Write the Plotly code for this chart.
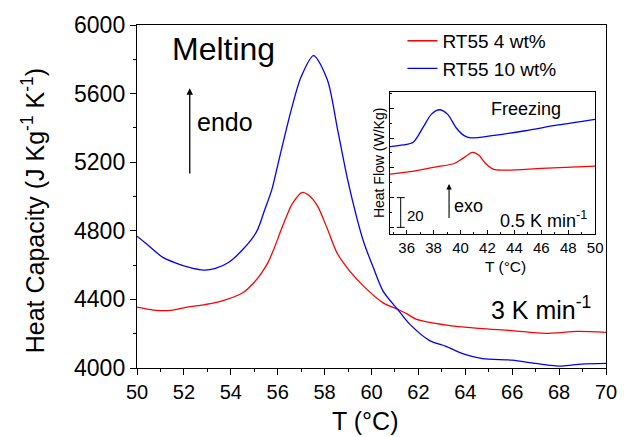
import plotly.graph_objects as go

# Main chart (melting, 3 K/min)
red_T = [50.0, 50.7, 51.45, 52.15, 52.9, 53.6, 54.5, 55.0, 55.3, 55.6, 55.87, 56.16, 56.44, 56.6, 57.05, 57.3, 57.7, 58.12, 58.55, 59.04, 59.67, 60.5, 61.1, 61.5, 61.9, 63.2, 64.6, 66.0, 67.4, 68.8, 70.0]
red_cp = [4355, 4338, 4336, 4355, 4370, 4390, 4437, 4500, 4552, 4619, 4705, 4810, 4905, 4953, 5024, 5010, 4944, 4810, 4666, 4571, 4476, 4380, 4343, 4317, 4285, 4250, 4231, 4218, 4202, 4214, 4208]
blue_T = [50.0, 50.4, 51.1, 51.66, 52.15, 52.85, 53.35, 53.9, 54.54, 55.1, 55.45, 55.75, 56.0, 56.58, 57.0, 57.53, 58.12, 58.55, 58.97, 59.39, 59.67, 60.09, 60.5, 61.15, 61.63, 62.48, 63.18, 63.88, 64.73, 66.0, 67.0, 68.1, 68.95, 70.0]
blue_cp = [4768, 4724, 4645, 4612, 4590, 4571, 4581, 4615, 4695, 4795, 4924, 5040, 5182, 5507, 5698, 5822, 5679, 5393, 5106, 4867, 4733, 4581, 4447, 4336, 4256, 4160, 4126, 4084, 4055, 4046, 4027, 4011, 4023, 4027]

# Inset (freezing, 0.5 K/min), heat flow in arbitrary offset units
in_blue_T = [34.77, 35.75, 36.49, 37.22, 37.83, 38.44, 39.05, 39.66, 40.27, 40.76, 42.35, 44.79, 47.24, 49.98]
in_blue_q = [54.3, 55.4, 57.2, 67.1, 75.9, 79.0, 75.9, 67.1, 61.6, 60.1, 61.6, 64.9, 68.8, 72.6]
in_red_T = [34.77, 36.24, 38.2, 39.54, 40.15, 40.89, 41.37, 41.86, 42.47, 43.57, 46.02, 50.0]
in_red_q = [35.8, 37.4, 40.7, 42.9, 46.2, 50.4, 48.4, 42.9, 38.9, 38.5, 39.6, 41.1]

x_ticks = list(range(50, 71, 2))
y_ticks = list(range(4000, 6001, 400))
inset_x_ticks = list(range(36, 51, 2))

FONT = "Liberation Sans, Arial, sans-serif"
RED = "#ff0000"
BLUE = "#0000ff"

fig = go.Figure()
fig.add_trace(go.Scatter(x=red_T, y=red_cp, mode="lines", name="RT55 4 wt%",
                         line=dict(color=RED, width=1.3, shape="spline", smoothing=0.8)))
fig.add_trace(go.Scatter(x=blue_T, y=blue_cp, mode="lines", name="RT55 10 wt%",
                         line=dict(color=BLUE, width=1.3, shape="spline", smoothing=0.8)))
fig.add_trace(go.Scatter(x=in_blue_T, y=in_blue_q, mode="lines", showlegend=False,
                         xaxis="x2", yaxis="y2",
                         line=dict(color=BLUE, width=1.3, shape="spline", smoothing=0.8)))
fig.add_trace(go.Scatter(x=in_red_T, y=in_red_q, mode="lines", showlegend=False,
                         xaxis="x2", yaxis="y2",
                         line=dict(color=RED, width=1.3, shape="spline", smoothing=0.8)))

axis_common = dict(showline=True, linecolor="black", mirror=True, showgrid=False,
                   zeroline=False, ticks="outside", tickcolor="black")

fig.update_layout(
    width=629, height=437,
    margin=dict(l=137, r=17, t=19, b=69),
    paper_bgcolor="white", plot_bgcolor="white",
    font=dict(family=FONT, color="black"),
    xaxis=dict(range=[50, 70], tickvals=x_ticks, ticklen=6, tickwidth=1.2, linewidth=1.4,
               tickfont=dict(size=20), minor=dict(dtick=1, ticklen=3, ticks="outside", tickcolor="black"),
               **axis_common),
    yaxis=dict(range=[4000, 6000], tickvals=y_ticks, ticklen=6, tickwidth=1.2, linewidth=1.4,
               tickfont=dict(size=23), minor=dict(dtick=200, ticklen=3, ticks="outside", tickcolor="black"),
               **axis_common),
    xaxis2=dict(domain=[0.539, 0.977], anchor="y2", range=[34.75, 50], tickvals=inset_x_ticks,
                showline=True, linecolor="black", mirror=True, showgrid=False, zeroline=False,
                ticks="inside", ticklen=4, tickcolor="black", linewidth=1,
                minor=dict(dtick=1, ticklen=2, ticks="inside", tickcolor="black"),
                tickfont=dict(size=15)),
    yaxis2=dict(domain=[0.390, 0.805], anchor="x2", range=[-4.6, 91], dtick=20,
                showline=True, linecolor="black", mirror=True, showgrid=False, zeroline=False,
                ticks="inside", ticklen=4, tickcolor="black", linewidth=1, showticklabels=False,
                minor=dict(dtick=10, ticklen=2, ticks="inside", tickcolor="black")),
    legend=dict(x=0.566, y=1.009, xanchor="left", yanchor="top", bgcolor="rgba(0,0,0,0)",
                font=dict(size=19), tracegroupgap=0),
)

C = dict(xanchor="center", yanchor="middle", showarrow=False)
ann = []
# axis titles
ann.append(dict(text="Heat Capacity (J Kg<sup>-1</sup> K<sup>-1</sup>)", xref="paper", yref="paper",
                x=-0.221, y=0.458, textangle=-90, font=dict(size=25), **C))
ann.append(dict(text="T (°C)", xref="paper", yref="paper", x=0.486, y=-0.155,
                font=dict(size=25), **C))
ann.append(dict(text="T (°C)", xref="paper", yref="paper", x=0.785, y=0.295,
                font=dict(size=15.5), **C))
ann.append(dict(text="Heat Flow (W/Kg)", xref="paper", yref="paper", x=0.515, y=0.596,
                textangle=-90, font=dict(size=14), **C))
# main texts
ann.append(dict(text="Melting", x=53.7, y=5862, xref="x", yref="y", font=dict(size=32), **C))
ann.append(dict(text="endo", x=53.74, y=5433, xref="x", yref="y", font=dict(size=25), **C))
ann.append(dict(text="3 K min<sup>-1</sup>", x=67.23, y=4349, xref="x", yref="y",
                font=dict(size=25), **C))
ann.append(dict(text="", x=52.25, y=5631, ax=52.25, ay=5125, xref="x", yref="y", axref="x", ayref="y",
                showarrow=True, arrowhead=2, arrowsize=1, arrowwidth=1.3, arrowcolor="black"))
# inset texts
ann.append(dict(text="Freezing", x=44.87, y=79.2, xref="x2", yref="y2", font=dict(size=18), **C))
ann.append(dict(text="0.5 K min<sup>-1</sup>", x=46.19, y=5.3, xref="x2", yref="y2",
                font=dict(size=18), **C))
ann.append(dict(text="exo", x=40.6, y=14.5, xref="x2", yref="y2", font=dict(size=18), **C))
ann.append(dict(text="", x=39.15, y=29.2, ax=39.15, ay=5.3, xref="x2", yref="y2", axref="x2", ayref="y2",
                showarrow=True, arrowhead=2, arrowsize=1, arrowwidth=1.1, arrowcolor="black"))
ann.append(dict(text="20", x=36.68, y=8.1, xref="x2", yref="y2", font=dict(size=15), **C))
fig.update_layout(annotations=ann)

# scale bar in the inset
shapes = [
    dict(type="line", xref="x2", yref="y2", x0=35.56, x1=35.56, y0=0, y1=20, line=dict(color="black", width=1)),
    dict(type="line", xref="x2", yref="y2", x0=35.27, x1=35.86, y0=0, y1=0, line=dict(color="black", width=1)),
    dict(type="line", xref="x2", yref="y2", x0=35.27, x1=35.86, y0=20, y1=20, line=dict(color="black", width=1)),
]
fig.update_layout(shapes=shapes)

fig.write_html("out.html")
